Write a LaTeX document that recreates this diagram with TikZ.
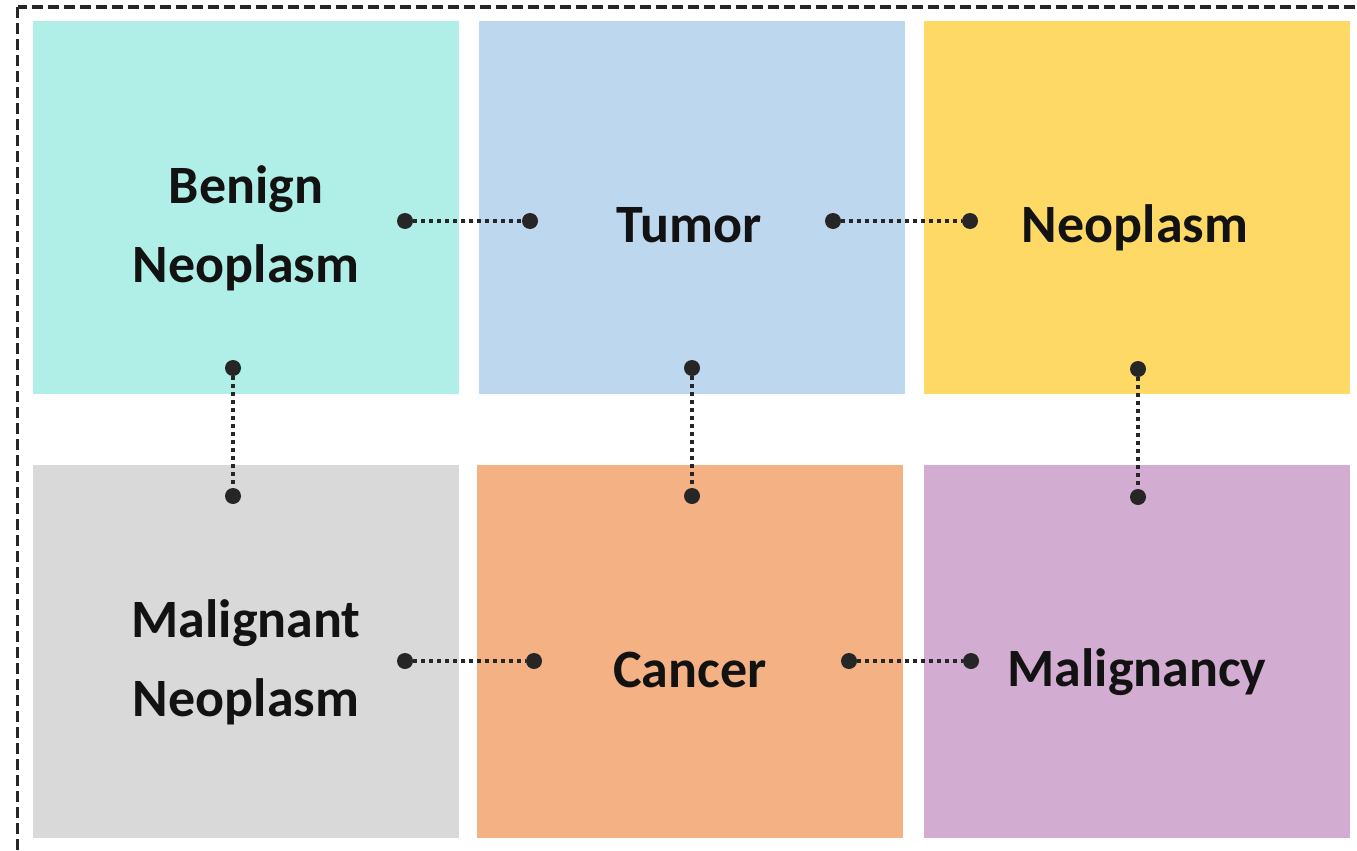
\documentclass[tikz,border=0pt]{standalone}
\usepackage{fontspec}
\setmainfont{Carlito}
\definecolor{cBenign}{HTML}{B0EFE7}
\definecolor{cTumor}{HTML}{BDD7EE}
\definecolor{cNeo}{HTML}{FFD966}
\definecolor{cMalN}{HTML}{D9D9D9}
\definecolor{cCancer}{HTML}{F4B183}
\definecolor{cMalig}{HTML}{D3ACD2}
\definecolor{ink}{HTML}{262626}
\definecolor{txt}{HTML}{121212}
\begin{document}
\begin{tikzpicture}[x=1pt,y=-1pt,
  box/.style={draw=none,inner sep=0pt,outer sep=0pt,minimum width=426pt,minimum height=373pt},
  label/.style={inner sep=0pt,outer sep=0pt,align=center,text=txt,font=\fontsize{54}{79}\selectfont\bfseries,anchor=base},
  pin/.style={circle,fill=ink,inner sep=0pt,minimum size=16pt},
  link/.style={draw=ink,line width=3.5pt,dash pattern=on 3.5pt off 4.5pt},
  frame/.style={draw=ink,line width=3.5pt,dash pattern=on 11pt off 5pt}
]
\useasboundingbox (0,0) rectangle (1357,851);
\clip (0,0) rectangle (1357,851);
\draw[frame] (17.5,7) rectangle (1375,870);

\node[box,fill=cBenign,anchor=north west] (benign) at (33,21) {};
\node[box,fill=cTumor,anchor=north west] (tumor) at (479,21) {};
\node[box,fill=cNeo,anchor=north west] (neo) at (924,21) {};
\node[box,fill=cMalN,anchor=north west] (maln) at (33,465) {};
\node[box,fill=cCancer,anchor=north west] (cancer) at (477,465) {};
\node[box,fill=cMalig,anchor=north west] (malig) at (924,465) {};

\node[label] (tbenign) at (246,282) {Benign\\Neoplasm};
\node[label] (ttumor) at (689,242) {Tumor};
\node[label] (tneo) at (1135,242) {Neoplasm};
\node[label] (tmaln) at (246,716) {Malignant\\Neoplasm};
\node[label] (tcancer) at (690,687) {Cancer};
\node[label] (tmalig) at (1137,686) {Malignancy};

\node[pin] (p1a) at (405,221) {};
\node[pin] (p1b) at (530,221) {};
\node[pin] (p2a) at (833,221) {};
\node[pin] (p2b) at (970,221) {};
\node[pin] (p3a) at (233,368) {};
\node[pin] (p3b) at (233,496) {};
\node[pin] (p4a) at (692,368) {};
\node[pin] (p4b) at (692,496) {};
\node[pin] (p5a) at (1138,369) {};
\node[pin] (p5b) at (1138,497) {};
\node[pin] (p6a) at (405,661) {};
\node[pin] (p6b) at (534,661) {};
\node[pin] (p7a) at (849,661) {};
\node[pin] (p7b) at (971,661) {};

\draw[link] (p1a) -- (p1b);
\draw[link] (p2a) -- (p2b);
\draw[link] (p3a) -- (p3b);
\draw[link] (p4a) -- (p4b);
\draw[link] (p5a) -- (p5b);
\draw[link] (p6a) -- (p6b);
\draw[link] (p7a) -- (p7b);
\end{tikzpicture}
\end{document}
